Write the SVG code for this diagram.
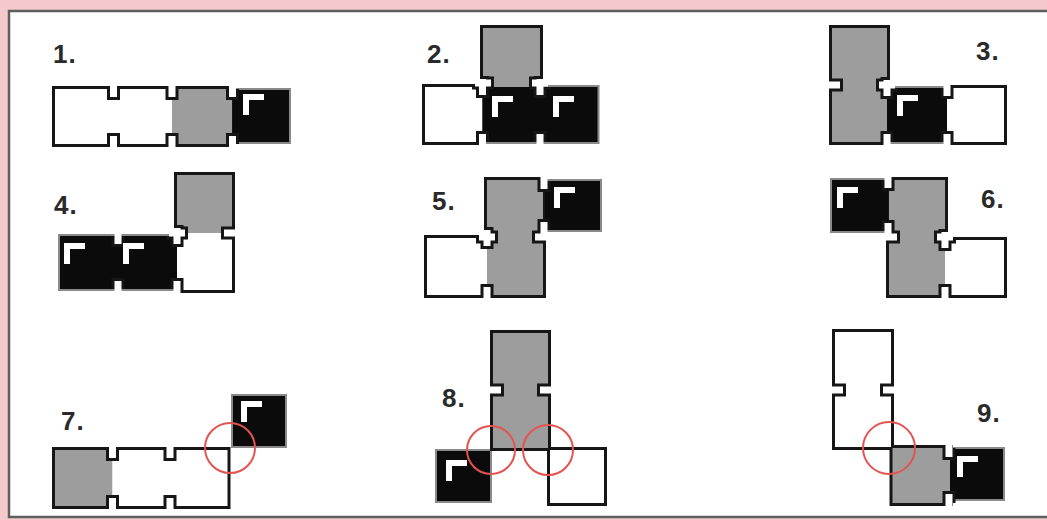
<svg xmlns="http://www.w3.org/2000/svg" width="1047" height="520" viewBox="0 0 1047 520">
<style>
.w{fill:#ffffff}.g{fill:#9d9d9d}.b{fill:#0b0b0b}
.os{fill:none;stroke:#161616;stroke-width:6}
.hs{fill:none;stroke:#8a8a8a;stroke-width:4}
.ns{fill:none;stroke:#161616;stroke-width:6}
.nf{fill:#ffffff}
.br{fill:#ffffff}
.rc{fill:none;stroke:#e4534f;stroke-width:2}
.lb{font-family:"Liberation Sans",Arial,sans-serif;font-weight:bold;font-size:26px;fill:#2a2a2a;letter-spacing:1px}
</style>
<defs>
<rect id="nh" x="-3.5" y="-8" width="7" height="16"/>
<rect id="nv" x="-8" y="-3.5" width="16" height="7"/>
<path id="brk" d="M0,0 h21 v6 h-15 v15 h-6 z"/>
<clipPath id="c1"><rect x="55" y="89" width="234" height="55"/></clipPath>
<clipPath id="c2"><rect x="483" y="28" width="57" height="59"/><rect x="425" y="87" width="172.5" height="55"/></clipPath>
<clipPath id="c3"><rect x="832" y="28" width="55" height="114"/><rect x="887" y="88" width="117" height="54"/></clipPath>
<clipPath id="c4"><rect x="177" y="175" width="55" height="115"/><rect x="60" y="236" width="117" height="53"/></clipPath>
<clipPath id="c5"><rect x="487" y="180" width="56" height="115"/><rect x="545" y="181" width="55" height="49"/><rect x="427" y="238" width="60" height="57"/></clipPath>
<clipPath id="c6"><rect x="832" y="180" width="55" height="51"/><rect x="889" y="180" width="56" height="115"/><rect x="945" y="240" width="59" height="55"/></clipPath>
<clipPath id="c7"><rect x="55" y="450" width="172.5" height="56"/></clipPath>
<clipPath id="c8"><rect x="493" y="333" width="55" height="115"/></clipPath>
<clipPath id="c9"><rect x="835" y="332" width="56" height="115"/><rect x="892.5" y="448" width="110.5" height="55"/></clipPath>
</defs>

<rect x="0" y="0" width="1047" height="520" fill="#f5c9cb"/>
<rect x="9" y="11" width="1046" height="506" fill="#ffffff" stroke="#5e5e5e" stroke-width="2.5"/>

<g id="panel-1">
<text class="lb" x="53" y="63">1.</text>
<rect class="hs" x="233" y="90" width="56" height="52"/>
<rect class="os" x="55" y="89" width="177" height="55"/>
<rect class="w" x="55" y="89" width="117" height="55"/>
<rect class="g" x="172" y="89" width="60" height="55"/>
<rect class="b" x="233" y="90" width="56" height="52"/>
<g clip-path="url(#c1)" class="ns">
<use href="#nh" x="113.5" y="89"/><use href="#nh" x="113.5" y="144"/>
<use href="#nh" x="172" y="89"/><use href="#nh" x="172" y="144"/>
<use href="#nh" x="232.5" y="89"/><use href="#nh" x="232.5" y="144"/>
</g>
<g class="nf">
<use href="#nh" x="113.5" y="89"/><use href="#nh" x="113.5" y="144"/>
<use href="#nh" x="172" y="89"/><use href="#nh" x="172" y="144"/>
<use href="#nh" x="232.5" y="89"/><use href="#nh" x="232.5" y="144"/>
</g>
<use href="#brk" class="br" x="243" y="94"/>
</g>

<g id="panel-2">
<text class="lb" x="427" y="63">2.</text>
<rect class="hs" x="482.5" y="87" width="115" height="55"/>
<rect class="os" x="483" y="28" width="57" height="59"/>
<rect class="os" x="425" y="87" width="57.5" height="55"/>
<rect class="g" x="483" y="28" width="57" height="59"/>
<rect class="w" x="425" y="87" width="57.5" height="55"/>
<rect class="b" x="482.5" y="87" width="115" height="55"/>
<g clip-path="url(#c2)" class="ns">
<use href="#nh" x="482.5" y="87"/><use href="#nh" x="482.5" y="142"/>
<use href="#nh" x="540" y="87"/><use href="#nh" x="540" y="142"/>
<use href="#nv" x="483" y="83"/><use href="#nv" x="540" y="83"/>
</g>
<g class="nf">
<use href="#nh" x="482.5" y="87"/><use href="#nh" x="482.5" y="142"/>
<use href="#nh" x="540" y="87"/><use href="#nh" x="540" y="142"/>
<use href="#nv" x="483" y="83"/><use href="#nv" x="540" y="83"/>
</g>
<use href="#brk" class="br" x="492" y="96"/>
<use href="#brk" class="br" x="553" y="96"/>
</g>

<g id="panel-3">
<text class="lb" x="976" y="60">3.</text>
<rect class="hs" x="887" y="88" width="60" height="54"/>
<rect class="os" x="832" y="28" width="55" height="114"/>
<rect class="os" x="947" y="88" width="57" height="54"/>
<rect class="g" x="832" y="28" width="55" height="114"/>
<rect class="w" x="947" y="88" width="57" height="54"/>
<rect class="b" x="887" y="88" width="60" height="54"/>
<g clip-path="url(#c3)" class="ns">
<use href="#nv" x="832" y="85"/><use href="#nv" x="887" y="85"/>
<use href="#nh" x="887" y="88"/><use href="#nh" x="887" y="142"/>
<use href="#nh" x="947" y="88"/><use href="#nh" x="947" y="142"/>
</g>
<g class="nf">
<use href="#nv" x="832" y="85"/><use href="#nv" x="887" y="85"/>
<use href="#nh" x="887" y="88"/><use href="#nh" x="887" y="142"/>
<use href="#nh" x="947" y="88"/><use href="#nh" x="947" y="142"/>
</g>
<use href="#brk" class="br" x="897" y="95"/>
</g>

<g id="panel-4">
<text class="lb" x="54" y="214">4.</text>
<rect class="hs" x="60" y="236" width="117" height="53"/>
<rect class="os" x="177" y="175" width="55" height="115"/>
<rect class="g" x="177" y="175" width="55" height="58"/>
<rect class="w" x="177" y="233" width="55" height="57"/>
<rect class="b" x="60" y="236" width="117" height="53"/>
<g clip-path="url(#c4)" class="ns">
<use href="#nv" x="177" y="233"/><use href="#nv" x="232" y="233"/>
<use href="#nh" x="118" y="236"/><use href="#nh" x="118" y="289"/>
<use href="#nh" x="177" y="236"/><use href="#nh" x="177" y="289"/>
</g>
<g class="nf">
<use href="#nv" x="177" y="233"/><use href="#nv" x="232" y="233"/>
<use href="#nh" x="118" y="236"/><use href="#nh" x="118" y="289"/>
<use href="#nh" x="177" y="236"/><use href="#nh" x="177" y="289"/>
</g>
<use href="#brk" class="br" x="64" y="243"/>
<use href="#brk" class="br" x="123" y="243"/>
</g>

<g id="panel-5">
<text class="lb" x="432" y="210">5.</text>
<rect class="hs" x="545" y="181" width="55" height="49"/>
<rect class="os" x="487" y="180" width="56" height="115"/>
<rect class="os" x="427" y="238" width="60" height="57"/>
<rect class="g" x="487" y="180" width="56" height="115"/>
<rect class="w" x="427" y="238" width="60" height="57"/>
<rect class="b" x="545" y="181" width="55" height="49"/>
<g clip-path="url(#c5)" class="ns">
<use href="#nv" x="487" y="237"/><use href="#nv" x="543" y="237"/>
<use href="#nh" x="544" y="181"/><use href="#nh" x="544" y="230"/>
<use href="#nh" x="487" y="238"/><use href="#nh" x="487" y="295"/>
</g>
<g class="nf">
<use href="#nv" x="487" y="237"/><use href="#nv" x="543" y="237"/>
<use href="#nh" x="544" y="181"/><use href="#nh" x="544" y="230"/>
<use href="#nh" x="487" y="238"/><use href="#nh" x="487" y="295"/>
</g>
<use href="#brk" class="br" x="554" y="187"/>
</g>

<g id="panel-6">
<text class="lb" x="981" y="208">6.</text>
<rect class="hs" x="832" y="180" width="56" height="51"/>
<rect class="os" x="889" y="180" width="56" height="115"/>
<rect class="os" x="945" y="240" width="59" height="55"/>
<rect class="g" x="889" y="180" width="56" height="115"/>
<rect class="w" x="945" y="240" width="59" height="55"/>
<rect class="b" x="832" y="180" width="56" height="51"/>
<g clip-path="url(#c6)" class="ns">
<use href="#nh" x="888" y="180"/><use href="#nh" x="888" y="231"/>
<use href="#nv" x="889" y="237"/><use href="#nv" x="945" y="237"/>
<use href="#nh" x="945" y="240"/><use href="#nh" x="945" y="295"/>
</g>
<g class="nf">
<use href="#nh" x="888" y="180"/><use href="#nh" x="888" y="231"/>
<use href="#nv" x="889" y="237"/><use href="#nv" x="945" y="237"/>
<use href="#nh" x="945" y="240"/><use href="#nh" x="945" y="295"/>
</g>
<use href="#brk" class="br" x="837" y="187"/>
</g>

<g id="panel-7">
<text class="lb" x="61" y="430">7.</text>
<rect class="hs" x="233" y="396" width="52" height="50"/>
<rect class="os" x="55" y="450" width="172.5" height="56"/>
<rect class="g" x="55" y="450" width="57.5" height="56"/>
<rect class="w" x="112.5" y="450" width="115" height="56"/>
<rect class="b" x="233" y="396" width="52" height="50"/>
<g clip-path="url(#c7)" class="ns">
<use href="#nh" x="112.5" y="450"/><use href="#nh" x="112.5" y="506"/>
<use href="#nh" x="170" y="450"/><use href="#nh" x="170" y="506"/>
</g>
<g class="nf">
<use href="#nh" x="112.5" y="450"/><use href="#nh" x="112.5" y="506"/>
<use href="#nh" x="170" y="450"/><use href="#nh" x="170" y="506"/>
</g>
<use href="#brk" class="br" x="241" y="401"/>
<circle class="rc" cx="230" cy="448" r="25"/>
</g>

<g id="panel-8">
<text class="lb" x="442" y="407">8.</text>
<rect class="hs" x="437" y="451" width="53" height="50"/>
<rect class="os" x="493" y="333" width="55" height="115"/>
<rect class="os" x="550" y="450" width="54" height="53"/>
<rect class="g" x="493" y="333" width="55" height="115"/>
<rect class="w" x="550" y="450" width="54" height="53"/>
<rect class="b" x="437" y="451" width="53" height="50"/>
<g clip-path="url(#c8)" class="ns">
<use href="#nv" x="493" y="390"/><use href="#nv" x="548" y="390"/>
</g>
<g class="nf">
<use href="#nv" x="493" y="390"/><use href="#nv" x="548" y="390"/>
</g>
<use href="#brk" class="br" x="446" y="460"/>
<circle class="rc" cx="491" cy="450" r="24"/>
<circle class="rc" cx="548" cy="450" r="25"/>
</g>

<g id="panel-9">
<text class="lb" x="977" y="422">9.</text>
<rect class="hs" x="950" y="449" width="53" height="50"/>
<rect class="os" x="835" y="332" width="56" height="115"/>
<rect class="os" x="892.5" y="448" width="57.5" height="55"/>
<rect class="w" x="835" y="332" width="56" height="115"/>
<rect class="g" x="892.5" y="448" width="57.5" height="55"/>
<rect class="b" x="950" y="449" width="53" height="50"/>
<g clip-path="url(#c9)" class="ns">
<use href="#nv" x="835" y="390"/><use href="#nv" x="891" y="390"/>
<use href="#nh" x="949" y="449"/><use href="#nh" x="949" y="502"/>
</g>
<g class="nf">
<use href="#nv" x="835" y="390"/><use href="#nv" x="891" y="390"/>
<use href="#nh" x="949" y="449"/><use href="#nh" x="949" y="502"/>
</g>
<use href="#brk" class="br" x="957" y="456"/>
<circle class="rc" cx="889" cy="448" r="26"/>
</g>
</svg>
